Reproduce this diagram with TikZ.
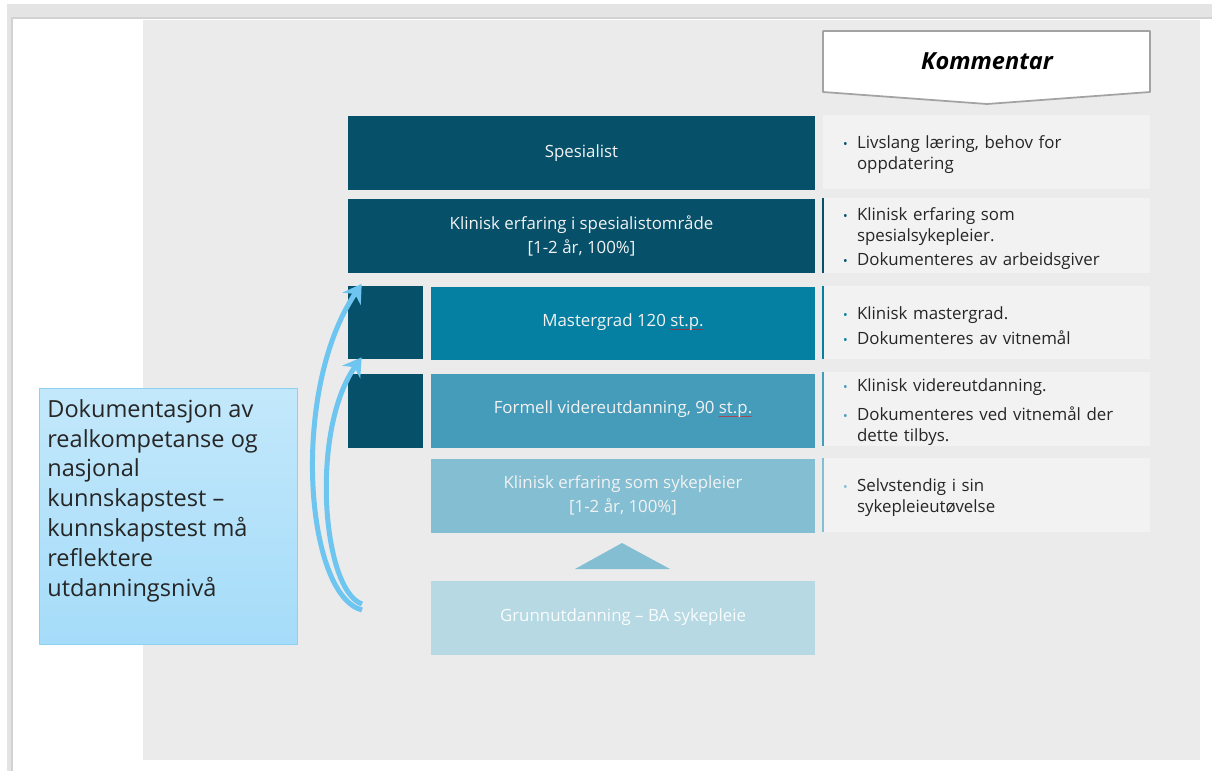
\documentclass[tikz,border=0pt]{standalone}
\usepackage{fontspec}
\setmainfont{Open Sans}
\usepackage{xcolor}
\usetikzlibrary{arrows.meta}
\definecolor{rammegraa}{HTML}{E4E4E4}
\definecolor{rammekant}{HTML}{D2D2D2}
\definecolor{slide}{HTML}{EBEBEB}
\definecolor{morkblaa}{HTML}{06506A}
\definecolor{masterblaa}{HTML}{0580A3}
\definecolor{formellblaa}{HTML}{449CBA}
\definecolor{sykblaa}{HTML}{84BED3}
\definecolor{grunnblaa}{HTML}{B7D9E3}
\definecolor{kommbg}{HTML}{F2F2F2}
\definecolor{tekstmork}{HTML}{262626}
\definecolor{tekstlys}{HTML}{F2F2F2}
\definecolor{doktopp}{HTML}{C3E8FB}
\definecolor{dokbunn}{HTML}{A5DCF9}
\definecolor{dokkant}{HTML}{8ED0F0}
\definecolor{pilblaa}{HTML}{6EC6F0}
\definecolor{kommkant}{HTML}{A3A3A3}
\newcommand{\feil}[1]{\setbox0\hbox{#1}\rlap{\textcolor{red}{\lower3.4pt\hbox to \wd0{\leaders\hbox{\fontsize{4}{4}\selectfont\kern-0.3pt\char"7E\kern-0.3pt}\hfil}}}\box0}
\newcommand{\punkt}[2]{\hangindent=0.28cm\hangafter=1\noindent\makebox[0.28cm][l]{\textcolor{#1}{\fontsize{7}{7}\selectfont\textbullet}}#2\par}
\begin{document}
\begin{tikzpicture}[line cap=round,line join=round,>={Stealth[length=0.36cm,width=0.44cm]},x=0.02cm,y=-0.02cm,
 boks/.style={inner sep=0pt,minimum height=1.48cm,align=center,text=tekstlys,font=\fontsize{9.6}{13.6}\selectfont},
 kommboks/.style={fill=kommbg,inner sep=0pt,minimum width=6.54cm,minimum height=1.48cm},
 kommtekst/.style={inner sep=0pt,text width=5.74cm,align=left,text=tekstmork,font=\fontsize{9.6}{11.9}\selectfont},
 kant/.style={line width=0.04cm,line cap=butt},
 pil/.style={->,line width=0.1cm,line cap=butt,draw=pilblaa}]
\useasboundingbox (0,0) rectangle (1212,771);
\fill[white] (0,0) rectangle (1212,771);
\fill[rammegraa] (7,4) rectangle (1212,17);
\fill[rammegraa] (7,4) rectangle (12,771);
\draw[rammekant,line width=0.04cm,line cap=butt] (12,771) -- (12,18) -- (1212,18);
\fill[slide] (143,20) rectangle (1200,760);
\draw[kommkant,fill=white,line width=0.035cm] (823,31) -- (1150,31) -- (1150,92) -- (987,104) -- (823,92) -- cycle;
\node[font=\fontsize{13.4}{15}\selectfont\bfseries\itshape] (komm) at (987,61) {Kommentar};
\node[boks,fill=morkblaa,minimum width=9.34cm] (spes) at (581.5,153) {Spesialist};
\node[boks,fill=morkblaa,minimum width=9.34cm,minimum height=1.5cm] (klin) at (581.5,236) {Klinisk erfaring i spesialistområde\\{[}1-2 år, 100\%{]}};
\node[boks,fill=morkblaa,minimum width=1.5cm,minimum height=1.46cm] (kv1) at (385.5,322.5) {};
\node[boks,fill=morkblaa,minimum width=1.5cm] (kv2) at (385.5,410.5) {};
\node[boks,fill=masterblaa,minimum width=7.68cm,minimum height=1.46cm] (master) at (623,323) {Mastergrad 120 \feil{st.p.}};
\node[boks,fill=formellblaa,minimum width=7.68cm] (formell) at (623,410.5) {Formell videreutdanning, 90 \feil{st.p.}};
\node[boks,fill=sykblaa,minimum width=7.68cm] (syk) at (623,495.5) {Klinisk erfaring som sykepleier\\{[}1-2 år, 100\%{]}};
\fill[sykblaa] (575,569) -- (670,569) -- (622,543) -- cycle;
\node[boks,fill=grunnblaa,minimum width=7.68cm,text=white!92!grunnblaa] (grunn) at (623,617.5) {Grunnutdanning -- BA sykepleie};
\node[kommboks] (k1) at (986.5,152) {};
\node[kommboks,minimum height=1.5cm] (k2) at (986.5,235.5) {};
\node[kommboks,minimum height=1.46cm] (k3) at (986.5,322.5) {};
\node[kommboks] (k4) at (986.5,409) {};
\node[kommboks] (k5) at (986.5,495) {};
\node[kommtekst] (k1t) at ([shift={(0,3)}]k1.center) {\punkt{morkblaa}{Livslang læring, behov for\newline oppdatering}};
\node[kommtekst] (k2t) at ([shift={(0,3)}]k2.center) {\punkt{morkblaa}{Klinisk erfaring som\newline spesialsykepleier.}\vspace{2pt}\punkt{morkblaa}{Dokumenteres av arbeidsgiver}};
\node[kommtekst] (k3t) at ([shift={(0,3)}]k3.center) {\punkt{masterblaa}{Klinisk mastergrad.}\vspace{2pt}\punkt{masterblaa}{Dokumenteres av vitnemål}};
\node[kommtekst] (k4t) at ([shift={(0,3)}]k4.center) {\punkt{formellblaa}{Klinisk videreutdanning.}\vspace{5pt}\punkt{formellblaa}{Dokumenteres ved vitnemål der\newline dette tilbys.}};
\node[kommtekst] (k5t) at ([shift={(0,3)}]k5.center) {\punkt{sykblaa}{Selvstendig i sin\newline sykepleieutøvelse}};
\draw[kant,morkblaa] (k2.north west) -- (k2.south west);
\draw[kant,masterblaa] (k3.north west) -- (k3.south west);
\draw[kant,formellblaa] (k4.north west) -- (k4.south west);
\draw[kant,sykblaa] (k5.north west) -- (k5.south west);
\node[draw=dokkant,top color=doktopp,bottom color=dokbunn,minimum width=5.16cm,minimum height=5.12cm,inner sep=0pt] (dok) at (168,516) {};
\node[anchor=north west,inner sep=0pt,align=left,text=tekstmork,font=\fontsize{13.4}{17}\selectfont] (doktekst) at (47,399) {Dokumentasjon av\\realkompetanse og\\nasjonal\\kunnskapstest --\\kunnskapstest må\\reflektere\\utdanningsnivå};
\coordinate (hale1) at (362,610);
\coordinate (hale2) at (362,604);
\draw[pil] (hale1) .. controls (305,595) and (290,390) .. ([shift={(14,10)}]klin.south west);
\draw[pil] (hale2) .. controls (322,590) and (310,430) .. ([shift={(14,-2)}]kv1.south west);
\end{tikzpicture}
\end{document}
